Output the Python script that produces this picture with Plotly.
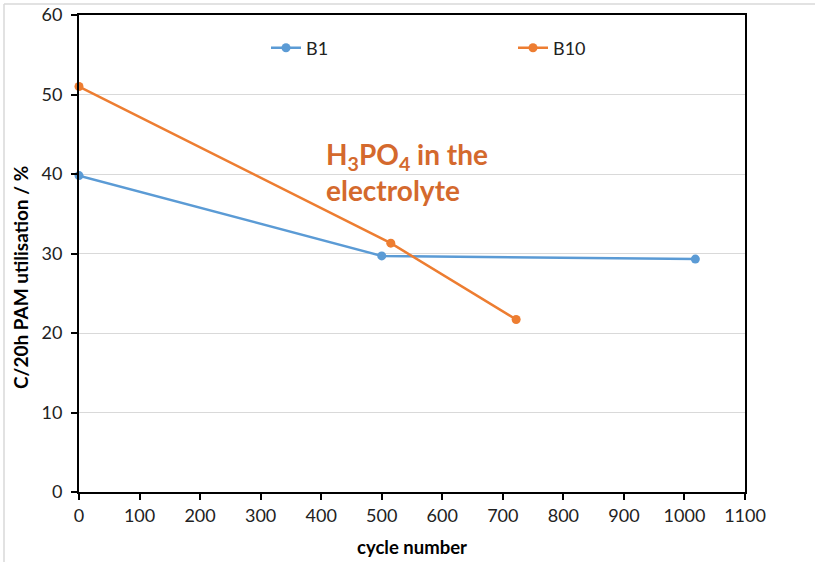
import plotly.graph_objects as go

b1_cycles = [0, 500, 1018]
b1_util = [39.8, 29.7, 29.3]
b10_cycles = [0, 515, 722]
b10_util = [51.0, 31.3, 21.7]

x_ticks = list(range(0, 1101, 100))
y_ticks = list(range(0, 61, 10))

W, H = 815, 562
ml, mr, mt, mb = 79, 70, 15, 70
FONT = "Lato, 'Open Sans', sans-serif"

fig = go.Figure()
fig.add_trace(go.Scatter(x=b1_cycles, y=b1_util, name="B1", mode="lines+markers",
                         line=dict(color="#5B9BD5", width=2.5), cliponaxis=False,
                         marker=dict(color="#5B9BD5", size=9), legend="legend"))
fig.add_trace(go.Scatter(x=b10_cycles, y=b10_util, name="B10", mode="lines+markers",
                         line=dict(color="#ED7D31", width=2.5), cliponaxis=False,
                         marker=dict(color="#ED7D31", size=9), legend="legend2"))

def px2paper_x(px):
    return (px - ml) / (W - ml - mr)

def px2paper_y(py):
    return (H - mb - py) / (H - mt - mb)

leg_common = dict(orientation="h", xanchor="left", yanchor="middle",
                  font=dict(size=18, family=FONT, color="#222222"), bgcolor="rgba(0,0,0,0)")

fig.update_layout(
    width=W, height=H,
    margin=dict(l=ml, r=mr, t=mt, b=mb, autoexpand=False),
    paper_bgcolor="white", plot_bgcolor="white",
    font=dict(family=FONT, size=18, color="#222222"),
    showlegend=True,
    legend=dict(x=px2paper_x(266), y=px2paper_y(48), **leg_common),
    legend2=dict(x=px2paper_x(513), y=px2paper_y(48), **leg_common),
    xaxis=dict(range=[0, 1100], tickvals=x_ticks, showgrid=False, zeroline=False,
               showline=True, linecolor="black", linewidth=2, mirror=True,
               ticks="outside", ticklen=6, tickcolor="black", tickwidth=1.5,
               tickfont=dict(size=18, family=FONT), automargin=False,
               title=dict(text="<b>cycle number</b>", font=dict(size=18.5, family=FONT, color="black"), standoff=16)),
    yaxis=dict(range=[0, 60], tickvals=y_ticks, showgrid=True, gridcolor="#D9D9D9", gridwidth=1.2,
               zeroline=False, showline=True, linecolor="black", linewidth=2, mirror=True,
               ticks="outside", ticklen=6, tickcolor="black", tickwidth=1.5,
               tickfont=dict(size=18, family=FONT), automargin=False, ticklabelstandoff=5),
)

fig.add_annotation(
    text="<b>C/20h PAM utilisation / %</b>", textangle=-90,
    xref="paper", yref="paper", x=px2paper_x(20), y=px2paper_y(278),
    xanchor="center", yanchor="middle", showarrow=False,
    font=dict(size=19, family=FONT, color="black"),
)

fig.add_annotation(
    text="<b>H<sub>3</sub>PO<sub>4</sub> in the<br>electrolyte</b>",
    xref="paper", yref="paper", x=px2paper_x(324), y=px2paper_y(135),
    xanchor="left", yanchor="top", align="left", showarrow=False,
    font=dict(size=28, family=FONT, color="#D4692D"),
)

fig.add_shape(type="line", xref="paper", yref="paper",
              x0=px2paper_x(4), x1=px2paper_x(815), y0=px2paper_y(4), y1=px2paper_y(4),
              line=dict(color="#D9D9D9", width=1.5))
fig.add_shape(type="line", xref="paper", yref="paper",
              x0=px2paper_x(4), x1=px2paper_x(4), y0=px2paper_y(4), y1=px2paper_y(562),
              line=dict(color="#D9D9D9", width=1.5))

fig.write_html("out.html", config={"displayModeBar": False},
               post_script="document.body.style.margin='0';")
